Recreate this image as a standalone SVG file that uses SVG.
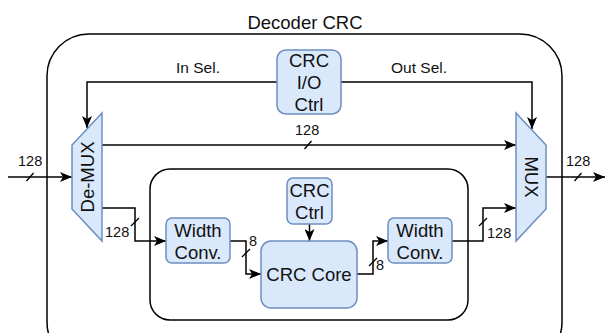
<svg xmlns="http://www.w3.org/2000/svg" width="607" height="333" viewBox="0 0 607 333">
  <style>
    .blk { fill: #dae8fc; stroke: #6c8ebf; stroke-width: 1.5; }
    .frame { fill: none; stroke: #000; stroke-width: 1.5; }
    .wire { fill: none; stroke: #000; stroke-width: 1.5; }
    .tick { stroke: #000; stroke-width: 1.3; }
    text { font-family: "Liberation Sans", Arial, sans-serif; fill: #111; }
    .lbl { font-size: 18.5px; text-anchor: middle; }
    .bus { font-size: 14.5px; }
    .sel { font-size: 15.5px; text-anchor: middle; }
  </style>
  <defs>
    <marker id="arr" markerUnits="userSpaceOnUse" markerWidth="12" markerHeight="10" refX="12" refY="5" orient="auto">
      <path d="M0,0 L12,5 L0,10 L3,5 z" fill="#000"/>
    </marker>
  </defs>

  <!-- containers -->
  <g id="decoder-crc">
    <rect class="frame" x="47" y="34" width="515" height="330" rx="42"/>
    <text class="lbl" x="305" y="29">Decoder CRC</text>
  </g>
  <g id="crc-datapath">
    <rect class="frame" x="150" y="169" width="318" height="151" rx="20"/>
  </g>

  <!-- connectors -->
  <g id="connectors">
    <path class="wire" d="M277,82 H87 V128" marker-end="url(#arr)"/>
    <path class="wire" d="M341,82 H532 V129" marker-end="url(#arr)"/>
    <path class="wire" d="M8,177 H72" marker-end="url(#arr)"/>
    <path class="wire" d="M102,145 H516" marker-end="url(#arr)"/>
    <path class="wire" d="M102,208 H135 V241 H166" marker-end="url(#arr)"/>
    <path class="wire" d="M230,241 H246 V274 H261" marker-end="url(#arr)"/>
    <path class="wire" d="M309.5,224 V241" marker-end="url(#arr)"/>
    <path class="wire" d="M357,274 H373 V241 H388" marker-end="url(#arr)"/>
    <path class="wire" d="M452,241 H483 V208 H516" marker-end="url(#arr)"/>
    <path class="wire" d="M546,177 H605" marker-end="url(#arr)"/>

    <!-- bus width ticks -->
    <line class="tick" x1="26.5" y1="181" x2="33.5" y2="173"/>
    <line class="tick" x1="304.5" y1="149" x2="311.5" y2="141"/>
    <line class="tick" x1="131" y1="226" x2="139" y2="218"/>
    <line class="tick" x1="242" y1="257" x2="250" y2="249"/>
    <line class="tick" x1="369" y1="266" x2="377" y2="258"/>
    <line class="tick" x1="479" y1="226" x2="487" y2="218"/>
    <line class="tick" x1="574.5" y1="181" x2="581.5" y2="173"/>

    <text class="bus" x="18" y="166">128</text>
    <text class="bus" x="295" y="135">128</text>
    <text class="bus" x="105" y="237">128</text>
    <text class="bus" x="249" y="246">8</text>
    <text class="bus" x="376" y="270">8</text>
    <text class="bus" x="487" y="238">128</text>
    <text class="bus" x="566" y="166">128</text>

    <text class="sel" x="198" y="73">In Sel.</text>
    <text class="sel" x="419" y="73">Out Sel.</text>
  </g>

  <!-- nodes -->
  <g id="crc-io-ctrl">
    <rect class="blk" x="277" y="50" width="64" height="64" rx="9"/>
    <text class="lbl" x="309" y="67">CRC</text>
    <text class="lbl" x="309" y="89">I/O</text>
    <text class="lbl" x="309" y="111">Ctrl</text>
  </g>
  <g id="de-mux">
    <path class="blk" d="M102,113 L72,145 V209 L102,241 Z"/>
    <text class="lbl" transform="translate(87,177) rotate(-90)" y="6.5">De-MUX</text>
  </g>
  <g id="mux">
    <path class="blk" d="M516,113 L546,145 V209 L516,241 Z"/>
    <text class="lbl" transform="translate(531,177) rotate(90)" y="6.5">MUX</text>
  </g>
  <g id="width-conv-in">
    <rect class="blk" x="166" y="218" width="64" height="45" rx="6"/>
    <text class="lbl" x="198" y="237">Width</text>
    <text class="lbl" x="198" y="259">Conv.</text>
  </g>
  <g id="crc-ctrl">
    <rect class="blk" x="287" y="178" width="45" height="46" rx="6"/>
    <text class="lbl" x="309.5" y="197">CRC</text>
    <text class="lbl" x="309.5" y="219">Ctrl</text>
  </g>
  <g id="crc-core">
    <rect class="blk" x="261" y="241" width="96" height="67" rx="10"/>
    <text class="lbl" x="309" y="281">CRC Core</text>
  </g>
  <g id="width-conv-out">
    <rect class="blk" x="388" y="218" width="64" height="45" rx="6"/>
    <text class="lbl" x="420" y="237">Width</text>
    <text class="lbl" x="420" y="259">Conv.</text>
  </g>
</svg>
